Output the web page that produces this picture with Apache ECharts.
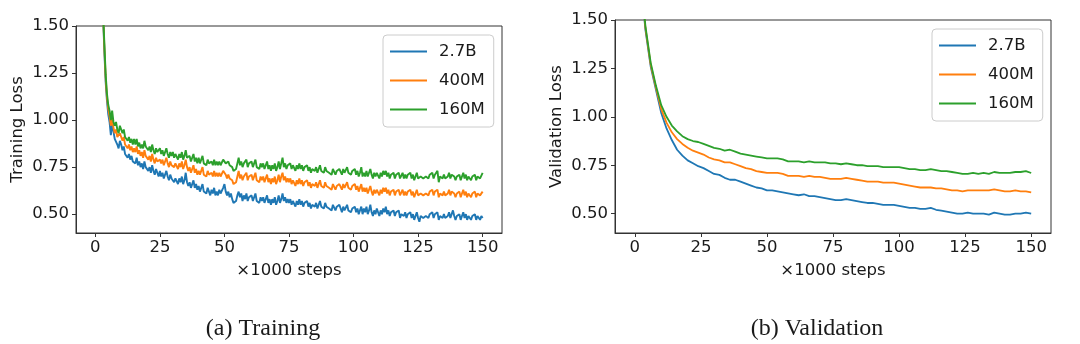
<!DOCTYPE html>
<html>
<head>
<meta charset="utf-8">
<script src="https://cdn.jsdelivr.net/npm/echarts@6/dist/echarts.min.js"></script>
<style>
  html, body { margin: 0; padding: 0; background: #ffffff; }
  #chart { width: 1080px; height: 344px; }
</style>
</head>
<body>
<div id="chart"></div>
<script>
// Model sizes and their colours
const modelNames = ['2.7B', '400M', '160M'];
const modelColors = ['#1f77b4', '#ff7f0e', '#2ca02c'];

// Tick positions
const xTicks = [0, 25, 50, 75, 100, 125, 150];
const yTicks = [0.50, 0.75, 1.00, 1.25, 1.50];

// Training loss, one value per 500 steps (0 .. 150k); ten values per row = 5k steps
const train27B = [
  4.10, 3.30, 2.70, 2.20, 1.90, 1.70, 1.55, 1.36, 1.20, 1.10,
  1.03, 0.99, 0.92, 0.98, 0.94, 0.90, 0.91, 0.87, 0.85, 0.89,
  0.87, 0.84, 0.86, 0.82, 0.83, 0.80, 0.82, 0.79, 0.81, 0.78,
  0.79, 0.77, 0.80, 0.76, 0.78, 0.75, 0.77, 0.74, 0.78, 0.75,
  0.76, 0.73, 0.75, 0.72, 0.76, 0.73, 0.71, 0.74, 0.72, 0.70,
  0.73, 0.70, 0.72, 0.69, 0.71, 0.73, 0.70, 0.68, 0.71, 0.69,
  0.70, 0.67, 0.69, 0.68, 0.66, 0.69, 0.67, 0.70, 0.66, 0.68,
  0.72, 0.67, 0.65, 0.67, 0.64, 0.66, 0.68, 0.64, 0.66, 0.63,
  0.65, 0.62, 0.64, 0.66, 0.62, 0.63, 0.61, 0.64, 0.62, 0.60,
  0.63, 0.61, 0.64, 0.60, 0.62, 0.60, 0.63, 0.61, 0.62, 0.64,
  0.66, 0.62, 0.60, 0.62, 0.59, 0.61, 0.58, 0.56, 0.55, 0.57,
  0.60, 0.62, 0.59, 0.61, 0.57, 0.60, 0.58, 0.61, 0.57, 0.59,
  0.58, 0.60, 0.57, 0.59, 0.61, 0.57, 0.58, 0.56, 0.59, 0.57,
  0.59, 0.56, 0.58, 0.60, 0.56, 0.58, 0.55, 0.58, 0.56, 0.59,
  0.55, 0.57, 0.60, 0.56, 0.58, 0.61, 0.57, 0.59, 0.56, 0.58,
  0.56, 0.58, 0.55, 0.57, 0.56, 0.54, 0.57, 0.55, 0.58, 0.55,
  0.57, 0.54, 0.56, 0.55, 0.57, 0.54, 0.56, 0.53, 0.55, 0.56,
  0.54, 0.56, 0.53, 0.55, 0.57, 0.54, 0.55, 0.53, 0.56, 0.54,
  0.55, 0.53, 0.54, 0.52, 0.55, 0.54, 0.52, 0.54, 0.53, 0.55,
  0.53, 0.51, 0.54, 0.52, 0.53, 0.55, 0.52, 0.53, 0.51, 0.53,
  0.52, 0.54, 0.51, 0.53, 0.50, 0.52, 0.54, 0.50, 0.53, 0.51,
  0.54, 0.50, 0.52, 0.55, 0.51, 0.49, 0.52, 0.50, 0.53, 0.51,
  0.49, 0.52, 0.50, 0.53, 0.51, 0.54, 0.50, 0.52, 0.49, 0.51,
  0.50, 0.52, 0.49, 0.51, 0.50, 0.52, 0.48, 0.50, 0.51, 0.49,
  0.51, 0.48, 0.50, 0.49, 0.51, 0.48, 0.50, 0.47, 0.49, 0.51,
  0.48, 0.46, 0.49, 0.50, 0.48, 0.47, 0.49, 0.50, 0.48, 0.50,
  0.49, 0.51, 0.48, 0.50, 0.49, 0.51, 0.47, 0.49, 0.50, 0.48,
  0.50, 0.48, 0.47, 0.49, 0.51, 0.48, 0.50, 0.52, 0.49, 0.47,
  0.49, 0.48, 0.50, 0.47, 0.49, 0.51, 0.48, 0.50, 0.47, 0.49,
  0.48, 0.47, 0.49, 0.48, 0.50, 0.47, 0.49, 0.48, 0.47, 0.49,
  0.48
];
const train400M = [
  4.00, 3.25, 2.65, 2.18, 1.88, 1.70, 1.56, 1.38, 1.22, 1.12,
  1.06, 1.02, 0.97, 1.01, 0.96, 0.93, 0.95, 0.91, 0.90, 0.93,
  0.92, 0.89, 0.91, 0.87, 0.88, 0.85, 0.87, 0.84, 0.86, 0.83,
  0.85, 0.83, 0.86, 0.82, 0.84, 0.81, 0.83, 0.80, 0.84, 0.81,
  0.82, 0.79, 0.81, 0.78, 0.82, 0.79, 0.77, 0.80, 0.78, 0.77,
  0.79, 0.77, 0.79, 0.76, 0.78, 0.80, 0.77, 0.75, 0.78, 0.76,
  0.77, 0.75, 0.77, 0.76, 0.74, 0.77, 0.75, 0.78, 0.74, 0.76,
  0.79, 0.75, 0.73, 0.75, 0.72, 0.74, 0.76, 0.72, 0.74, 0.71,
  0.73, 0.71, 0.73, 0.75, 0.71, 0.72, 0.70, 0.73, 0.71, 0.70,
  0.72, 0.70, 0.73, 0.70, 0.72, 0.70, 0.72, 0.70, 0.71, 0.73,
  0.74, 0.71, 0.69, 0.71, 0.69, 0.70, 0.68, 0.66, 0.65, 0.67,
  0.70, 0.73, 0.69, 0.71, 0.68, 0.70, 0.69, 0.72, 0.68, 0.70,
  0.69, 0.71, 0.68, 0.70, 0.72, 0.68, 0.69, 0.67, 0.70, 0.68,
  0.70, 0.67, 0.69, 0.71, 0.67, 0.69, 0.66, 0.69, 0.67, 0.70,
  0.66, 0.68, 0.71, 0.67, 0.70, 0.72, 0.68, 0.70, 0.67, 0.69,
  0.67, 0.69, 0.66, 0.68, 0.67, 0.65, 0.68, 0.66, 0.69, 0.66,
  0.68, 0.65, 0.67, 0.66, 0.68, 0.65, 0.67, 0.64, 0.66, 0.67,
  0.65, 0.67, 0.64, 0.66, 0.68, 0.65, 0.66, 0.64, 0.67, 0.65,
  0.66, 0.64, 0.65, 0.63, 0.66, 0.65, 0.63, 0.65, 0.64, 0.66,
  0.65, 0.63, 0.66, 0.64, 0.65, 0.67, 0.64, 0.65, 0.63, 0.65,
  0.64, 0.66, 0.63, 0.65, 0.62, 0.64, 0.66, 0.62, 0.64, 0.62,
  0.64, 0.61, 0.63, 0.65, 0.62, 0.60, 0.63, 0.61, 0.63, 0.62,
  0.60, 0.63, 0.61, 0.64, 0.62, 0.64, 0.61, 0.63, 0.60, 0.62,
  0.61, 0.63, 0.60, 0.62, 0.61, 0.63, 0.60, 0.61, 0.63, 0.60,
  0.62, 0.60, 0.62, 0.61, 0.63, 0.60, 0.62, 0.59, 0.61, 0.63,
  0.60, 0.59, 0.61, 0.62, 0.60, 0.59, 0.61, 0.62, 0.60, 0.62,
  0.61, 0.63, 0.60, 0.62, 0.61, 0.63, 0.59, 0.61, 0.62, 0.60,
  0.62, 0.60, 0.59, 0.61, 0.63, 0.60, 0.62, 0.63, 0.61, 0.59,
  0.61, 0.60, 0.62, 0.59, 0.61, 0.63, 0.60, 0.62, 0.59, 0.61,
  0.60, 0.59, 0.61, 0.60, 0.62, 0.59, 0.61, 0.60, 0.60, 0.61,
  0.62
];
const train160M = [
  3.90, 3.20, 2.60, 2.16, 1.86, 1.70, 1.57, 1.40, 1.24, 1.14,
  1.08, 1.05, 1.00, 1.05, 0.99, 0.97, 0.99, 0.95, 0.93, 0.97,
  0.96, 0.93, 0.95, 0.91, 0.92, 0.89, 0.91, 0.88, 0.90, 0.87,
  0.90, 0.87, 0.90, 0.86, 0.88, 0.85, 0.87, 0.85, 0.89, 0.86,
  0.87, 0.84, 0.86, 0.83, 0.87, 0.84, 0.82, 0.85, 0.83, 0.82,
  0.85, 0.82, 0.84, 0.81, 0.83, 0.85, 0.82, 0.80, 0.83, 0.81,
  0.83, 0.80, 0.82, 0.81, 0.79, 0.82, 0.80, 0.83, 0.79, 0.81,
  0.84, 0.80, 0.79, 0.81, 0.78, 0.80, 0.82, 0.78, 0.80, 0.77,
  0.80, 0.77, 0.79, 0.81, 0.77, 0.78, 0.76, 0.79, 0.77, 0.76,
  0.78, 0.76, 0.79, 0.76, 0.78, 0.76, 0.78, 0.76, 0.77, 0.79,
  0.80, 0.77, 0.76, 0.78, 0.76, 0.77, 0.75, 0.73, 0.72, 0.74,
  0.77, 0.80, 0.76, 0.78, 0.75, 0.77, 0.76, 0.79, 0.75, 0.77,
  0.76, 0.78, 0.75, 0.77, 0.79, 0.75, 0.76, 0.74, 0.77, 0.75,
  0.77, 0.74, 0.76, 0.78, 0.74, 0.76, 0.73, 0.76, 0.74, 0.77,
  0.73, 0.75, 0.78, 0.74, 0.77, 0.80, 0.75, 0.77, 0.74, 0.76,
  0.75, 0.77, 0.74, 0.76, 0.75, 0.73, 0.76, 0.74, 0.77, 0.74,
  0.76, 0.73, 0.75, 0.74, 0.76, 0.73, 0.75, 0.72, 0.74, 0.75,
  0.73, 0.75, 0.72, 0.74, 0.76, 0.73, 0.74, 0.72, 0.75, 0.73,
  0.74, 0.72, 0.73, 0.71, 0.74, 0.73, 0.71, 0.73, 0.72, 0.74,
  0.73, 0.71, 0.74, 0.72, 0.73, 0.75, 0.72, 0.73, 0.71, 0.73,
  0.72, 0.74, 0.71, 0.73, 0.70, 0.72, 0.75, 0.70, 0.72, 0.70,
  0.73, 0.70, 0.72, 0.74, 0.71, 0.69, 0.72, 0.70, 0.72, 0.71,
  0.69, 0.72, 0.70, 0.73, 0.71, 0.73, 0.70, 0.72, 0.69, 0.71,
  0.70, 0.72, 0.69, 0.71, 0.70, 0.72, 0.69, 0.70, 0.72, 0.69,
  0.71, 0.69, 0.71, 0.70, 0.72, 0.69, 0.71, 0.68, 0.70, 0.72,
  0.69, 0.68, 0.70, 0.71, 0.69, 0.68, 0.70, 0.71, 0.69, 0.71,
  0.70, 0.72, 0.69, 0.71, 0.70, 0.73, 0.67, 0.70, 0.71, 0.69,
  0.71, 0.69, 0.68, 0.70, 0.72, 0.69, 0.71, 0.72, 0.70, 0.68,
  0.70, 0.69, 0.71, 0.68, 0.70, 0.72, 0.69, 0.71, 0.68, 0.70,
  0.69, 0.68, 0.70, 0.69, 0.71, 0.68, 0.70, 0.69, 0.69, 0.70,
  0.72
];

// Validation loss, one value per 2000 steps (0 .. 150k)
const val27B = [
  3.50, 1.75, 1.45, 1.26, 1.14, 1.02, 0.94, 0.88, 0.83, 0.80,
  0.775, 0.76, 0.745, 0.735, 0.72, 0.705, 0.70, 0.685, 0.675, 0.675,
  0.665, 0.655, 0.645, 0.635, 0.63, 0.62, 0.62, 0.615, 0.61, 0.605,
  0.60, 0.595, 0.60, 0.59, 0.59, 0.585, 0.58, 0.575, 0.57, 0.57,
  0.575, 0.57, 0.565, 0.56, 0.555, 0.555, 0.55, 0.545, 0.545, 0.545,
  0.54, 0.535, 0.53, 0.53, 0.525, 0.525, 0.53, 0.52, 0.515, 0.51,
  0.505, 0.50, 0.50, 0.505, 0.50, 0.50, 0.50, 0.495, 0.505, 0.50,
  0.495, 0.495, 0.50, 0.50, 0.505, 0.50
];
const val400M = [
  3.50, 1.76, 1.46, 1.27, 1.15, 1.04, 0.97, 0.92, 0.885, 0.86,
  0.84, 0.825, 0.815, 0.805, 0.79, 0.78, 0.775, 0.765, 0.765, 0.755,
  0.745, 0.735, 0.73, 0.72, 0.715, 0.71, 0.71, 0.71, 0.705, 0.695,
  0.695, 0.695, 0.69, 0.695, 0.69, 0.69, 0.685, 0.68, 0.68, 0.68,
  0.685, 0.68, 0.675, 0.67, 0.665, 0.665, 0.665, 0.66, 0.66, 0.66,
  0.655, 0.65, 0.645, 0.64, 0.635, 0.635, 0.635, 0.63, 0.63, 0.625,
  0.62, 0.62, 0.615, 0.62, 0.62, 0.62, 0.62, 0.62, 0.625, 0.62,
  0.615, 0.615, 0.62, 0.615, 0.615, 0.61
];
const val160M = [
  3.50, 1.77, 1.47, 1.28, 1.16, 1.06, 1.00, 0.955, 0.925, 0.90,
  0.885, 0.875, 0.87, 0.86, 0.85, 0.84, 0.835, 0.825, 0.83, 0.82,
  0.81, 0.805, 0.80, 0.795, 0.79, 0.785, 0.785, 0.785, 0.78, 0.77,
  0.77, 0.77, 0.765, 0.77, 0.765, 0.765, 0.765, 0.76, 0.76, 0.755,
  0.76, 0.755, 0.75, 0.75, 0.745, 0.745, 0.745, 0.74, 0.74, 0.74,
  0.74, 0.735, 0.73, 0.73, 0.725, 0.725, 0.73, 0.725, 0.72, 0.72,
  0.715, 0.71, 0.705, 0.705, 0.71, 0.705, 0.71, 0.705, 0.715, 0.71,
  0.71, 0.71, 0.715, 0.715, 0.72, 0.71
];

const trainSeries = [train27B, train400M, train160M];
const valSeries = [val27B, val400M, val160M];
const trainStepSize = 0.5;   // in thousands of steps
const valStepSize = 2;

function pairs(values, step) {
  return values.map((v, i) => [i * step, v]);
}

const FONT = 'DejaVu Sans';
const TEXT = '#1a1a1a';
const SPINE = '#333333';
const FS = 16.5;

function makeXAxis(gridIndex) {
  return {
    type: 'value', gridIndex, min: -7.5, max: 157.5,
    name: '×1000 steps', nameLocation: 'middle', nameGap: 29,
    nameTextStyle: { fontFamily: FONT, fontSize: FS, color: TEXT },
    axisLine: { show: true, onZero: false, lineStyle: { color: SPINE, width: 1 } },
    axisTick: { show: true, length: 4, customValues: xTicks, lineStyle: { color: SPINE } },
    axisLabel: { customValues: xTicks, margin: 6, fontFamily: FONT, fontSize: FS, color: TEXT,
                 formatter: v => String(v) },
    splitLine: { show: false }
  };
}
function makeYAxis(gridIndex, name) {
  return {
    type: 'value', gridIndex, min: 0.4, max: 1.5,
    name, nameLocation: 'middle', nameGap: 50,
    nameTextStyle: { fontFamily: FONT, fontSize: FS, color: TEXT },
    axisLine: { show: true, onZero: false, lineStyle: { color: SPINE, width: 1 } },
    axisTick: { show: true, length: 4, customValues: yTicks, lineStyle: { color: SPINE } },
    axisLabel: { customValues: yTicks, margin: 7, fontFamily: FONT, fontSize: FS, color: TEXT,
                 formatter: v => v.toFixed(2) },
    splitLine: { show: false }
  };
}
function makeLegend(left, top) {
  return {
    left, top, orient: 'vertical', data: modelNames, selectedMode: false,
    itemWidth: 37, itemHeight: 14, itemGap: 12,
    padding: [8, 9, 9, 6],
    backgroundColor: 'rgba(255,255,255,0.8)',
    borderColor: '#cccccc', borderWidth: 1, borderRadius: 4,
    itemStyle: { opacity: 0 },   // plain line keys, no markers
    textStyle: { fontFamily: FONT, fontSize: FS, color: TEXT, lineHeight: 14, padding: [0, 0, 0, 7] }
  };
}

const series = [];
trainSeries.forEach((vals, k) => series.push({
  type: 'line', name: modelNames[k], xAxisIndex: 0, yAxisIndex: 0,
  data: pairs(vals, trainStepSize), symbol: 'none', clip: true, z: 2 + k,
  lineStyle: { color: modelColors[k], width: 1.9 }, itemStyle: { color: modelColors[k] }
}));
valSeries.forEach((vals, k) => series.push({
  type: 'line', name: modelNames[k], xAxisIndex: 1, yAxisIndex: 1,
  data: pairs(vals, valStepSize), symbol: 'none', clip: true, z: 2 + k,
  lineStyle: { color: modelColors[k], width: 1.8 }, itemStyle: { color: modelColors[k] }
}));

const chart = echarts.init(document.getElementById('chart'), null, { renderer: 'canvas' });
chart.setOption({
  backgroundColor: '#ffffff',
  animation: false,
  grid: [
    { left: 76, top: 26, width: 426, height: 207, show: true, borderColor: SPINE, borderWidth: 1, backgroundColor: 'transparent' },
    { left: 615, top: 20, width: 436, height: 213, show: true, borderColor: SPINE, borderWidth: 1, backgroundColor: 'transparent' }
  ],
  xAxis: [makeXAxis(0), makeXAxis(1)],
  yAxis: [makeYAxis(0, 'Training Loss'), makeYAxis(1, 'Validation Loss')],
  legend: [makeLegend(383, 35), makeLegend(932, 29)],
  series,
  graphic: [
    { type: 'text', x: 263, y: 329, style: { text: '(a) Training', x: 0, y: 0, align: 'center', verticalAlign: 'middle',
      font: '24px "Liberation Serif"', fill: TEXT } },
    { type: 'text', x: 817, y: 329, style: { text: '(b) Validation', x: 0, y: 0, align: 'center', verticalAlign: 'middle',
      font: '24px "Liberation Serif"', fill: TEXT } }
  ]
});
</script>
</body>
</html>
